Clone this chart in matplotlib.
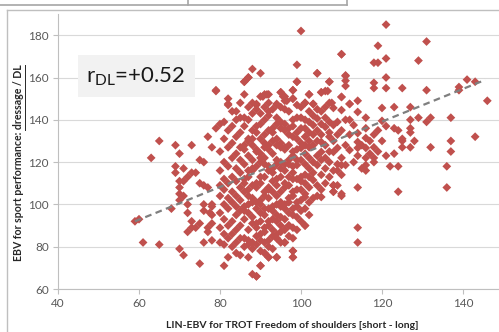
import numpy as np
import matplotlib.pyplot as plt
from matplotlib.lines import Line2D
from matplotlib.patches import Rectangle
from matplotlib.transforms import IdentityTransform

plt.rcParams['font.family'] = ['Lato', 'DejaVu Sans']

# LIN-EBV columns of the dense core and the DL-EBVs of the horses in each column
lin_core = [80, 81, 82, 83, 84, 85, 86, 87, 88, 89, 90, 91, 92, 93, 94, 95, 96, 97, 98, 99,
            100, 101, 102, 103, 104, 105, 106, 107, 108, 109, 110, 111, 112]
dl_core = [
    [82, 89, 96, 104, 109, 116, 125, 138],
    [71, 81, 86, 93, 100, 107, 112, 120, 131, 139],
    [75, 84, 90, 98, 103, 110, 118, 127, 135, 147, 150],
    [80, 86, 92, 101, 106, 113, 122, 129, 137, 144],
    [77, 82, 88, 95, 99, 104, 111, 117, 124, 132, 140, 144],
    [76, 84, 90, 97, 102, 108, 115, 121, 127, 134, 141, 148],
    [80, 84, 93, 97, 99, 106, 110, 112, 119, 126, 128, 137, 141, 152, 158],
    [75, 81, 83, 88, 96, 100, 104, 107, 113, 116, 123, 130, 131, 140, 146, 160],
    [67, 79, 82, 91, 94, 101, 103, 109, 116, 117, 121, 128, 131, 135, 143, 148, 164],
    [66, 81, 85, 89, 91, 98, 101, 108, 110, 118, 125, 126, 134, 137, 145, 147],
    [71, 78, 83, 86, 92, 96, 100, 102, 110, 113, 120, 122, 124, 131, 138, 143, 151, 162],
    [77, 82, 87, 89, 95, 98, 104, 106, 113, 119, 122, 127, 129, 133, 140, 146, 152],
    [75, 80, 83, 90, 92, 98, 103, 107, 108, 116, 118, 126, 128, 135, 142, 144, 148, 152],
    [79, 85, 88, 93, 97, 99, 106, 111, 115, 117, 124, 130, 134, 136, 145],
    [75, 84, 86, 92, 95, 100, 104, 109, 112, 119, 121, 128, 131, 138, 141, 147],
    [82, 87, 90, 94, 99, 101, 106, 113, 117, 120, 127, 129, 136, 139, 146, 153],
    [82, 88, 93, 98, 100, 108, 110, 116, 119, 126, 127, 135, 138, 145, 149, 151],
    [85, 90, 96, 101, 103, 109, 113, 119, 121, 128, 133, 136, 144],
    [75, 78, 84, 89, 95, 98, 104, 106, 112, 115, 118, 123, 125, 132, 137, 140, 150, 154],
    [88, 94, 99, 101, 107, 112, 118.6, 121, 126, 131, 134, 141, 147, 158, 166],
    [92, 97, 102, 107, 111, 113, 121, 126.7, 129, 136, 141, 146, 182],
    [90, 98, 103.5, 105, 110, 114, 119, 124, 128, 132, 136, 140, 148],
    [95, 101, 108, 113, 117, 122, 127, 130, 134, 139, 144, 152],
    [103, 111.5, 115, 120, 128, 133, 137.5, 142, 147.5],
    [104, 109, 118.6, 123, 130, 135, 140.6, 145, 162],
    [103.5, 107, 114, 121, 124.8, 129.5, 133, 138, 144, 153],
    [110, 117, 122, 128, 136.6, 141, 146, 153.6],
    [113, 120, 125, 132, 134, 139, 148, 158],
    [106, 109, 116, 124.8, 130, 137.5, 145.6],
    [109, 116, 119, 126.7, 133, 139],
    [104, 114, 118.6, 122, 135, 144.6, 150.8, 171],
    [118.6, 128, 140, 156, 158.5, 160.7],
    [125.7, 133, 140, 147.5],
]

# scattered horses left of the core
lin_low = [59, 60, 61, 65, 68, 70, 71, 75, 76, 72, 73, 71, 72, 76, 78, 73, 74, 77, 78, 78,
           77, 65, 63, 69, 73, 70, 69, 69, 71, 73, 72, 70, 70, 70, 75, 77, 75, 76, 77, 78,
           79, 79, 70, 71, 74, 72, 76, 78, 77.5, 75, 76, 78]
dl_low = [92, 93, 82, 81, 98, 79, 76, 72, 82, 87, 92, 104, 100, 100, 99, 89, 89, 89, 91, 95,
          87, 130, 122, 128, 128, 124, 118, 115, 117, 115, 113, 111, 108, 102, 110, 108, 121, 120, 132, 127,
          136, 154, 105, 111, 115, 96, 109, 100, 96, 91, 97, 83]

# scattered horses right of the core
lin_high = [113, 113, 114, 114, 114, 114, 114, 114, 114, 114, 114, 115, 115, 116, 116, 116, 116, 116, 116, 116,
            117, 117, 118, 118, 118, 118, 118, 118, 118, 119, 119, 119, 119, 120, 120, 120, 121, 121, 121, 121,
            121, 121, 122, 123, 123, 123, 124, 124, 124, 125, 125, 125, 125, 127, 127, 127, 127, 127, 128, 129,
            129, 131, 131, 131, 132, 132, 136, 136, 137, 137, 137, 139, 139, 141, 143, 143, 146]
dl_high = [120, 137.5, 82, 89, 108, 123, 126.7, 129.5, 133.7, 143.7, 149, 117, 128, 116, 118.6, 122, 126.7, 131.4, 136, 141,
           124, 130, 120, 122, 127, 133, 155, 157.5, 167, 125, 135, 167, 175, 130, 139.5, 145.6, 123, 137, 155, 160,
           169, 185, 118, 124, 136, 146, 106, 118, 135, 127, 130, 131, 155, 127, 134, 136, 140, 146, 130, 141,
           168, 139, 154, 177, 127, 141, 108, 118, 125, 130, 141, 154, 155.5, 159, 132, 158, 149]

# extra horses at the rim of the cloud
lin_rim = [91.6, 90.6, 95, 95.6, 98, 98, 102, 105, 106.6, 107.6, 110, 112, 89, 94, 96.5, 101, 103, 86, 87, 82,
           79, 97, 101, 98, 98, 94, 90, 89, 96, 94, 92, 91, 108, 108, 110, 111, 104, 107, 99, 110]
dl_rim = [152, 151, 153, 151, 154, 150, 152, 153, 153.6, 148, 150.8, 147.5, 147.5, 147.5, 149, 148, 147.5, 158, 160, 147.5,
          153.6, 90, 90, 78, 75, 75, 71, 66, 82, 84, 75, 77, 106, 109, 105, 161, 162, 158, 158, 171]

# linear trend of DL on LIN
trend_slope = 0.773
trend_icpt = 46.4
trend_x = [59, 145.5]

x_ticks = [40, 60, 80, 100, 120, 140]
y_ticks = [60, 80, 100, 120, 140, 160, 180]

lin = np.concatenate([np.repeat(lin_core, [len(c) for c in dl_core]), lin_low, lin_high, lin_rim])
dl = np.concatenate([np.concatenate(dl_core), dl_low, dl_high, dl_rim])

W, H = 499, 332
fig = plt.figure(figsize=(W / 100, H / 100), dpi=100)
ax = fig.add_axes([58 / W, 43 / H, 441 / W, 275 / H])
ax.set_xlim(40, 40 + 441 / 4.05)
ax.set_ylim(60, 60 + 275 / 2.115)
ax.set_xticks(x_ticks)
ax.set_yticks(y_ticks)
ax.yaxis.grid(True, color='#d9d9d9', lw=0.8)
ax.set_axisbelow(True)
for s in ['top', 'right']:
    ax.spines[s].set_visible(False)
for s in ['left', 'bottom']:
    ax.spines[s].set_color('#bfbfbf')
    ax.spines[s].set_linewidth(0.8)
ax.tick_params(length=3.5, width=0.8, color='#bfbfbf', labelcolor='#595959', labelsize=8.5, pad=3)

ax.scatter(lin, dl, marker='D', s=20, c='#c0504d', edgecolors='none', zorder=3)
tx = np.array(trend_x)
ax.plot(tx, trend_icpt + trend_slope * tx, ls=(0, (3, 2)), color='#7f7f7f', lw=1.6, zorder=4)

# correlation box
fig.patches.append(Rectangle((78 / W, 1 - 97 / H), 117 / W, 42 / H, transform=fig.transFigure,
                             facecolor='#f2f2f2', edgecolor='none'))
fig.text(136 / W, 1 - 77 / H, r'r$_{\mathregular{DL}}$=+0.52', fontsize=16, ha='center', va='center',
         color='#1a1a1a')

fig.text(292 / W, 1 - 325 / H, 'LIN-EBV for TROT Freedom of shoulders [short - long]',
         fontsize=7.5, fontweight='bold', ha='center', va='center', color='#262626')
yl = fig.text(19 / W, 1 - 163 / H, 'EBV for sport performance: dressage / DL', rotation=90,
              fontsize=7.6, fontweight='bold', ha='center', va='center', color='#262626')

# underline "dressage / DL"
fig.canvas.draw()
r = fig.canvas.get_renderer()
full = yl.get_window_extent(r)
tmp = fig.text(0, 0, 'dressage / DL', fontsize=7.6, fontweight='bold')
suf = tmp.get_window_extent(r).width
tmp.remove()
ux = full.x1 + 0.5
fig.add_artist(Line2D([ux, ux], [full.y1 - suf, full.y1], transform=IdentityTransform(),
                      color='#262626', lw=0.7))

# frame of the chart area and the table edge above it
def px_line(xs, ys, c, lw):
    fig.add_artist(Line2D([x / W for x in xs], [1 - y / H for y in ys], transform=fig.transFigure,
                          color=c, lw=lw))

px_line([7, 499], [10, 10], '#bfbfbf', 1.0)
px_line([7, 7], [10, 332], '#bfbfbf', 1.0)
px_line([0, 347], [5, 5], '#a6a6a6', 1.2)
px_line([188, 188], [0, 5], '#a6a6a6', 1.2)
px_line([347, 347], [0, 5], '#a6a6a6', 1.2)

fig.savefig('out.png', dpi=100)
